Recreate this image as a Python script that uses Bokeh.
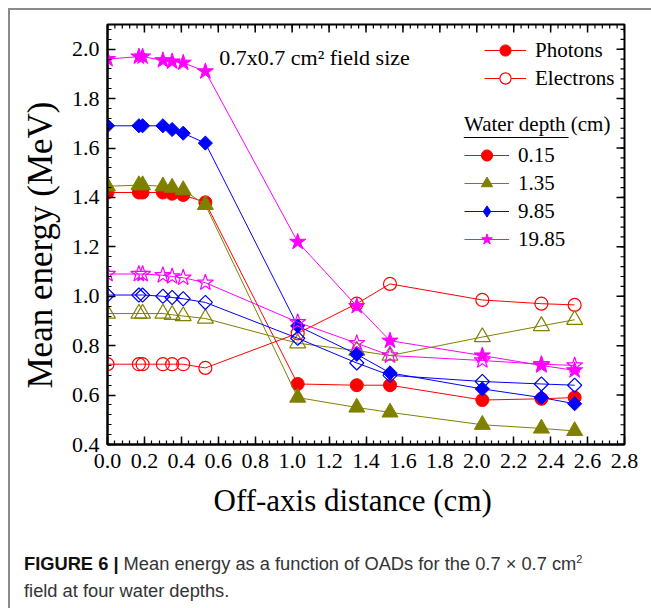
from math import pi
from bokeh.plotting import figure
from bokeh.layouts import column
from bokeh.models import (Range1d, FixedTicker, PrintfTickFormatter, Legend, LegendItem,
                          Label, Div, Title)
from bokeh.embed import file_html
from bokeh.resources import INLINE

# ---------------- data ----------------
oad = [0.0, 0.17, 0.19, 0.30, 0.35, 0.41, 0.53, 1.03, 1.35, 1.53, 2.03, 2.35, 2.53]

ph_015 = [1.42, 1.42, 1.42, 1.42, 1.415, 1.41, 1.38, 0.645, 0.64, 0.64, 0.58, 0.585, 0.59]
el_015 = [0.725, 0.725, 0.725, 0.725, 0.725, 0.725, 0.71, 0.85, 0.97, 1.05, 0.985, 0.97, 0.965]
ph_135 = [1.445, 1.45, 1.45, 1.445, 1.44, 1.43, 1.37, 0.59, 0.55, 0.53, 0.48, 0.465, 0.455]
el_135 = [0.93, 0.93, 0.93, 0.93, 0.925, 0.92, 0.91, 0.81, 0.78, 0.76, 0.835, 0.88, 0.905]
ph_985 = [1.69, 1.69, 1.69, 1.69, 1.675, 1.66, 1.62, 0.88, 0.765, 0.69, 0.625, 0.59, 0.565]
el_985 = [1.005, 1.005, 1.005, 1.0, 0.995, 0.99, 0.975, 0.83, 0.73, 0.68, 0.655, 0.645, 0.64]
ph_1985 = [1.96, 1.97, 1.97, 1.955, 1.95, 1.945, 1.91, 1.22, 0.96, 0.82, 0.76, 0.72, 0.70]
el_1985 = [1.09, 1.09, 1.09, 1.085, 1.08, 1.075, 1.055, 0.895, 0.81, 0.76, 0.74, 0.725, 0.72]

depth_labels = ["0.15", "1.35", "9.85", "19.85"]
particle_labels = ["Photons", "Electrons"]

x_major = [0.0, 0.2, 0.4, 0.6, 0.8, 1.0, 1.2, 1.4, 1.6, 1.8, 2.0, 2.2, 2.4, 2.6, 2.8]
y_major = [0.4, 0.6, 0.8, 1.0, 1.2, 1.4, 1.6, 1.8, 2.0]
x_minor = [round(0.04 * i, 2) for i in range(71)]
y_minor = [round(0.4 + 0.04 * i, 2) for i in range(43)]

SERIF = "Liberation Serif"

X0, X1, Y0, Y1 = 0.0, 2.8, 0.4, 2.1

p = figure(width=641, height=535, x_range=Range1d(X0, X1), y_range=Range1d(Y0, Y1),
           output_backend="svg", toolbar_location=None,
           min_border_left=96, min_border_right=27, min_border_top=14, min_border_bottom=101)
p.grid.visible = False
p.outline_line_color = "black"
p.outline_line_width = 2
p.background_fill_color = "white"
p.border_fill_color = "white"

def style_axis(ax, major, minor):
    ax.ticker = FixedTicker(ticks=major, minor_ticks=minor)
    ax.formatter = PrintfTickFormatter(format="%.1f")
    ax.axis_line_color = "black"
    ax.axis_line_width = 2
    ax.major_tick_in = 8
    ax.major_tick_out = 0
    ax.minor_tick_in = 4
    ax.minor_tick_out = 0
    ax.major_tick_line_width = 1.5
    ax.minor_tick_line_width = 1.2
    ax.major_label_text_font = SERIF
    ax.major_label_text_font_size = "22px"
    ax.major_label_text_color = "black"

style_axis(p.xaxis[0], x_major, x_minor)
style_axis(p.yaxis[0], y_major, y_minor)
p.xaxis[0].major_label_standoff = 9
p.yaxis[0].major_label_standoff = 8

# axis titles (placed as side titles so that they can sit off-centre like the reference)
p.add_layout(Title(text="Off-axis distance (cm)", align="left", offset=106, standoff=21,
                   text_font=SERIF, text_font_size="31px", text_font_style="normal",
                   text_color="black"), "below")
p.add_layout(Title(text="Mean energy (MeV)", align="left", offset=56, standoff=17,
                   text_font=SERIF, text_font_size="35px", text_font_style="normal",
                   text_color="black"), "left")

# mirrored inward ticks on the top and right frame edges
p.ray(x=x_major, y=[Y1] * len(x_major), length=8, length_units="screen", angle=-pi / 2,
      line_color="black", line_width=1.5)
p.ray(x=x_minor, y=[Y1] * len(x_minor), length=4, length_units="screen", angle=-pi / 2,
      line_color="black", line_width=1.2)
p.ray(x=[X1] * len(y_major), y=y_major, length=8, length_units="screen", angle=pi,
      line_color="black", line_width=1.5)
p.ray(x=[X1] * len(y_minor), y=y_minor, length=4, length_units="screen", angle=pi,
      line_color="black", line_width=1.2)

# ---------------- series ----------------
series = [
    (ph_015, el_015, "#FF0000", "circle", 13, 0.0, "circle"),
    (ph_135, el_135, "#808000", "triangle", 16, 0.0, "triangle"),
    (ph_985, el_985, "#0000FF", "square", 10, pi / 4, "diamond"),
    (ph_1985, el_1985, "#FF00FF", "star", 17, 0.0, "star"),
]

# legend stand-in glyphs sit outside the visible range (they only feed the legend)
off_x, off_y = [X0 - 1.0], [Y0 - 1.0]

legend_renderers = []
for ph, el, col, mk, sz, ang, leg_mk in series:
    le = p.line(oad, el, line_color=col, line_width=1)
    se = p.scatter(oad, el, marker=mk, size=sz, angle=ang, fill_color="white", fill_alpha=0.0,
                   line_color=col, line_width=1.2)
    lp = p.line(oad, ph, line_color=col, line_width=1)
    sp = p.scatter(oad, ph, marker=mk, size=sz, angle=ang, fill_color=col, line_color=col,
                   line_width=1)
    gl = p.line(off_x * 2, off_y * 2, line_color=col, line_width=1)
    gf = p.scatter(off_x, off_y, marker=leg_mk, size=sz, fill_color=col, line_color=col)
    go = p.scatter(off_x, off_y, marker=leg_mk, size=sz, fill_color="white",
                   line_color=col, line_width=1.2)
    legend_renderers.append(((gl, gf), (gl, go)))

# ---------------- legends ----------------
leg_kw = dict(label_text_font=SERIF, label_text_font_size="21px", label_text_color="black",
              glyph_height=28, label_height=28, spacing=0, padding=0, margin=0,
              label_standoff=9, border_line_alpha=0, background_fill_alpha=0)

(p015, e015) = legend_renderers[0]
leg1 = Legend(items=[LegendItem(label=particle_labels[0], renderers=list(p015)),
                     LegendItem(label=particle_labels[1], renderers=list(e015))],
              location=(377, 352), glyph_width=42, **leg_kw)
p.add_layout(leg1)

leg2 = Legend(items=[LegendItem(label=depth_labels[i], renderers=list(legend_renderers[i][0]))
                     for i in range(4)],
              location=(357, 191), glyph_width=45, title="Water depth (cm)",
              title_text_font=SERIF, title_text_font_size="21px", title_text_font_style="normal",
              title_text_color="black", title_standoff=4, **leg_kw)
p.add_layout(leg2)

# underline of "Water depth" in the legend title (frame px -> data)
def sx(px):
    return X0 + (px - 106) / (624 - 106) * (X1 - X0)
def sy(py):
    return Y0 + (444 - py) / (444 - 24) * (Y1 - Y0)
p.line([sx(463), sx(568)], [sy(137), sy(137)], line_color="black", line_width=1)

p.add_layout(Label(x=sx(218), y=sy(57), text="0.7x0.7 cm\u00b2 field size", text_font=SERIF,
                   text_font_size="22px", text_baseline="middle", text_color="black"))

# ---------------- caption ----------------
caption = Div(
    text=("<b style='color:#111111'>FIGURE 6 |</b> Mean energy as a function of OADs for the "
          "0.7 &times; 0.7 cm<sup style='font-size:11px'>2</sup><br>field at four water depths."),
    width=641, height=63, margin=(0, 0, 0, 0),
    styles={"font-family": "'Liberation Sans', sans-serif", "font-size": "18.3px",
            "line-height": "27px", "color": "#333333", "padding-left": "14px",
            "padding-top": "1px", "box-sizing": "border-box"})

page = column(p, caption, margin=(8, 0, 0, 8),
              styles={"border-top": "2px solid #8a8a8a", "border-left": "2px solid #8a8a8a",
                      "background-color": "white"})

open("out.html", "w").write(file_html(page, INLINE))
